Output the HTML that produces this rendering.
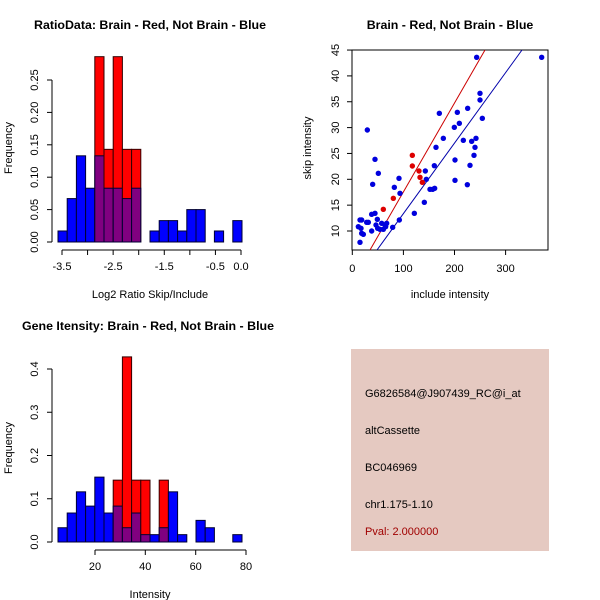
<!DOCTYPE html>
<html><head><meta charset="utf-8"><style>
html,body{margin:0;padding:0;background:#fff}
svg{display:block}
text{font-family:"Liberation Sans",sans-serif;fill:#000}
.t{font-weight:bold;font-size:12.4px}
.l{font-size:11px}
</style></head><body>
<svg id="s" width="600" height="600" xmlns="http://www.w3.org/2000/svg">
<text class="t" x="150" y="29" text-anchor="middle">RatioData: Brain - Red, Not Brain - Blue</text>
<text class="t" x="450" y="29" text-anchor="middle">Brain - Red, Not Brain - Blue</text>
<text class="t" x="148" y="330" text-anchor="middle">Gene Itensity: Brain - Red, Not Brain - Blue</text>
<text class="l" x="150" y="298" text-anchor="middle">Log2 Ratio Skip/Include</text>
<text class="l" x="450" y="298" text-anchor="middle">include intensity</text>
<text class="l" x="150" y="598" text-anchor="middle">Intensity</text>
<text class="l" transform="translate(12,148) rotate(-90)" text-anchor="middle">Frequency</text>
<text class="l" transform="translate(311,148) rotate(-90)" text-anchor="middle">skip intensity</text>
<text class="l" transform="translate(12,448) rotate(-90)" text-anchor="middle">Frequency</text>
<rect x="351" y="349" width="198" height="202" fill="#e5c9c1"/>
<text class="l" x="365" y="397">G6826584@J907439_RC@i_at</text>
<text class="l" x="365" y="434">altCassette</text>
<text class="l" x="365" y="471">BC046969</text>
<text class="l" x="365" y="508">chr1.175-1.10</text>
<text class="l" x="365" y="535" style="fill:#a00000">Pval: 2.000000</text>
</svg>
<script>
var s=document.getElementById('s'),NS='http://www.w3.org/2000/svg';
function el(t,a,txt){var e=document.createElementNS(NS,t);for(var k in a)e.setAttribute(k,a[k]);if(txt!=null)e.textContent=txt;s.appendChild(e);return e;}
function hist(x0,bw,y0,sc,red,blue){
 for(var i=0;i<20;i++){var r=red[i]||0,b=blue[i]||0;var x=x0+i*bw;
  if(r>0)el('rect',{x:x,y:y0-r*sc,width:bw,height:r*sc,fill:'#ff0000',stroke:'#300',"stroke-width":1});
  if(b>0)el('rect',{x:x,y:y0-b*sc,width:bw,height:b*sc,fill:(r>0?'#800080':'#0000ff'),stroke:'#003',"stroke-width":1});}
}
function yaxis(x,y0,sc,vals,labs){
 el('line',{x1:x,x2:x,y1:y0-vals[0]*sc,y2:y0-vals[vals.length-1]*sc,stroke:'#000'});
 vals.forEach(function(v,i){var y=y0-v*sc;el('line',{x1:x-5,x2:x,y1:y,y2:y,stroke:'#000'});
  el('text',{"class":'l',transform:'translate('+(x-14)+','+y+') rotate(-90)',"text-anchor":'middle'},labs[i]);});
}
function xaxis(y,xs,labs){
 el('line',{x1:xs[0],x2:xs[xs.length-1],y1:y,y2:y,stroke:'#000'});
 xs.forEach(function(x,i){el('line',{x1:x,x2:x,y1:y,y2:y+5,stroke:'#000'});
  if(labs[i])el('text',{"class":'l',x:x,y:y+20,"text-anchor":'middle'},labs[i]);});
}
var b1=[0.017,0.067,0.133,0.083,0.133,0.083,0.083,0.067,0.083,0,0.017,0.033,0.033,0.017,0.05,0.05,0,0.017,0,0.033];
var r1=[0,0,0,0,0.286,0.143,0.286,0.143,0.143];
hist(58,9.2,242,648,r1,b1);
yaxis(52,242,648,[0,0.05,0.1,0.15,0.2,0.25],['0.00','0.05','0.10','0.15','0.20','0.25']);
var xs=[],lb=['-3.5','','-2.5','','-1.5','','-0.5','0.0'];for(var i=0;i<8;i++)xs.push(62+i*25.57);
xaxis(250,xs,lb);
var b3=[0.033,0.067,0.116,0.083,0.15,0.067,0.083,0.033,0.067,0.017,0.017,0.033,0.116,0.017,0,0.05,0.033,0,0,0.017];
var r3=[0,0,0,0,0,0,0.143,0.428,0.143,0.143,0,0.143];
hist(58,9.2,542,432.5,r3,b3);
yaxis(52,542,432.5,[0,0.1,0.2,0.3,0.4],['0.0','0.1','0.2','0.3','0.4']);
xaxis(550,[95,145.3,195.7,246],['20','40','60','80']);
el('rect',{x:352,y:50,width:196,height:200,fill:'none',stroke:'#000'});
var yv=[10,15,20,25,30,35,40,45];
yv.forEach(function(v){var y=231-(v-10)*5.17;el('line',{x1:347,x2:352,y1:y,y2:y,stroke:'#000'});
 el('text',{"class":'l',transform:'translate(339,'+y+') rotate(-90)',"text-anchor":'middle'},''+v);});
[0,100,200,300].forEach(function(v){var x=352.3+v*0.511;el('line',{x1:x,x2:x,y1:250,y2:255,stroke:'#000'});
 el('text',{"class":'l',x:x,y:272,"text-anchor":'middle'},''+v);});
el('line',{x1:370,y1:250,x2:485,y2:50,stroke:'#cc0000'});
el('line',{x1:377,y1:250,x2:522,y2:50,stroke:'#0000aa'});
var bp=[[175,620],[180,600],[185,600],[183,625],[180,667],[185,640],[190,643],[200,607],[205,607],[202,330],[215,583],[218,493],[215,633],[225,580],[228,615],[225,418],[232,598],[235,460],[233,625],[240,628],[245,610],[250,628],[255,615],[257,620],[260,610],[278,622],[283,502],[297,475],[298,600],[300,520],[343,580],[373,547],[376,453],[379,478],[390,508],[398,508],[403,437],[404,505],[408,382],[418,280],[430,355],[463,322],[465,420],[465,481],[472,277],[478,310],[490,361],[503,265],[502,494],[510,436],[515,364],[522,406],[525,382],[528,355],[530,112],[540,220],[540,240],[547,295],[725,112]];
var rp=[[250,568],[280,535],[337,406],[337,438],[357,453],[360,472],[367,487]];
bp.forEach(function(p){el('circle',{cx:300+p[0]/3,cy:20+p[1]/3,r:2.7,fill:'#0000dd'});});
rp.forEach(function(p){el('circle',{cx:300+p[0]/3,cy:20+p[1]/3,r:2.7,fill:'#dd0000'});});
</script>
</body></html>
